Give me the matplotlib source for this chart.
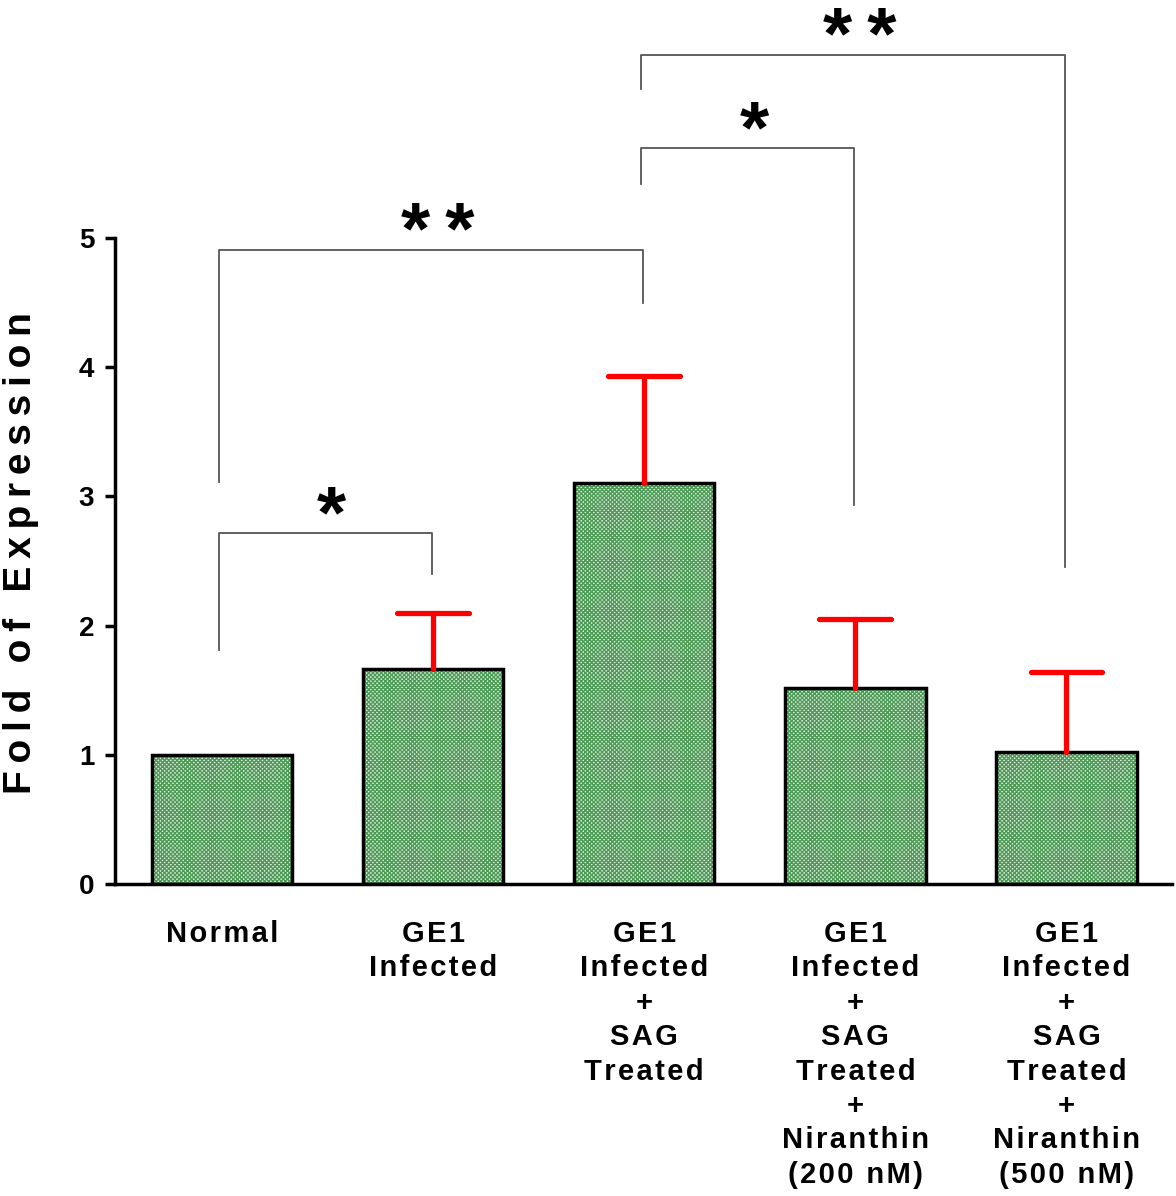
import matplotlib
matplotlib.use("Agg")
import matplotlib.pyplot as plt
import numpy as np

plt.rcParams["font.family"] = ["Liberation Sans", "DejaVu Sans"]
plt.rcParams["hatch.linewidth"] = 1.0

# ── data ────────────────────────────────────────────────────────────────
groups = ["Normal",
          "GE1\nInfected",
          "GE1\nInfected\n+\nSAG\nTreated",
          "GE1\nInfected\n+\nSAG\nTreated\n+\nNiranthin\n(200 nM)",
          "GE1\nInfected\n+\nSAG\nTreated\n+\nNiranthin\n(500 nM)"]
means = [1.00, 1.66, 3.10, 1.52, 1.02]
err_up = [0.00, 0.44, 0.83, 0.53, 0.62]

# significance brackets: (left idx, right idx, left leg bottom, top, right leg bottom, label)
brackets = [
    (0, 1, 1.81, 2.72, 2.40, "*"),
    (0, 2, 3.11, 4.91, 4.50, "**"),
    (2, 3, 5.42, 5.70, 2.93, "*"),
    (2, 4, 6.15, 6.42, 2.45, "**"),
]


def spaced(s, sp="\u200a"):
    return "\n".join(sp.join(list(line)) for line in s.split("\n"))


fig = plt.figure(figsize=(11.76, 11.96), dpi=100)
ax = fig.add_axes([0.0978, 0.2609, 0.8988, 0.7391])

x = np.arange(len(groups))
# hatch layer (fine green check) then black outline
ax.bar(x, means, width=0.665, color="#e2f1e2", edgecolor="#4c9a56",
       hatch="xxxxxxxx", linewidth=0, zorder=2)
ax.bar(x, means, width=0.665, color="none", edgecolor="black",
       linewidth=2.5, zorder=3)

# upper-only red error bars
for xi, m, e in zip(x, means, err_up):
    if e <= 0:
        continue
    ax.vlines(xi, m, m + e, color="#ff0000", linewidth=3.8, zorder=4,
              capstyle="round")
    ax.hlines(m + e, xi - 0.17, xi + 0.17, color="#ff0000", linewidth=3.8,
              zorder=4, capstyle="round")

# brackets
for i0, i1, lo0, top, lo1, lab in brackets:
    x0, x1 = x[i0] - 0.015, x[i1] - 0.005
    ax.plot([x0, x0, x1, x1], [lo0, top, top, lo1], color="#555555",
            linewidth=1.3, zorder=1)
    ax.text((x0 + x1) / 2 + 0.03, top - 0.15, lab.replace("**", "*\u2009*"),
            ha="center", va="bottom", fontsize=54, fontweight="bold")

ax.set_xlim(-0.507, 4.5)
ax.set_ylim(0, 6.842)
ax.spines["top"].set_visible(False)
ax.spines["right"].set_visible(False)
ax.spines["left"].set_bounds(0, 5)
ax.spines["left"].set_linewidth(2.5)
ax.spines["bottom"].set_linewidth(2.5)

ax.set_yticks([0, 1, 2, 3, 4, 5])
ax.tick_params(axis="y", direction="out", length=7, width=2.5, pad=8,
               labelsize=20)
for t in ax.get_yticklabels():
    t.set_fontweight("bold")

ax.set_xticks(x)
ax.set_xticklabels([spaced(g) for g in groups], fontsize=21,
                   fontweight="bold", linespacing=1.29)
ax.tick_params(axis="x", length=0, pad=26)

ax.set_ylabel(spaced("Fold of Expression", "\u2009"), fontsize=28,
              fontweight="bold")
ax.yaxis.set_label_coords(-0.072, 2.56 / 6.842)

fig.savefig("out.png", dpi=100)
